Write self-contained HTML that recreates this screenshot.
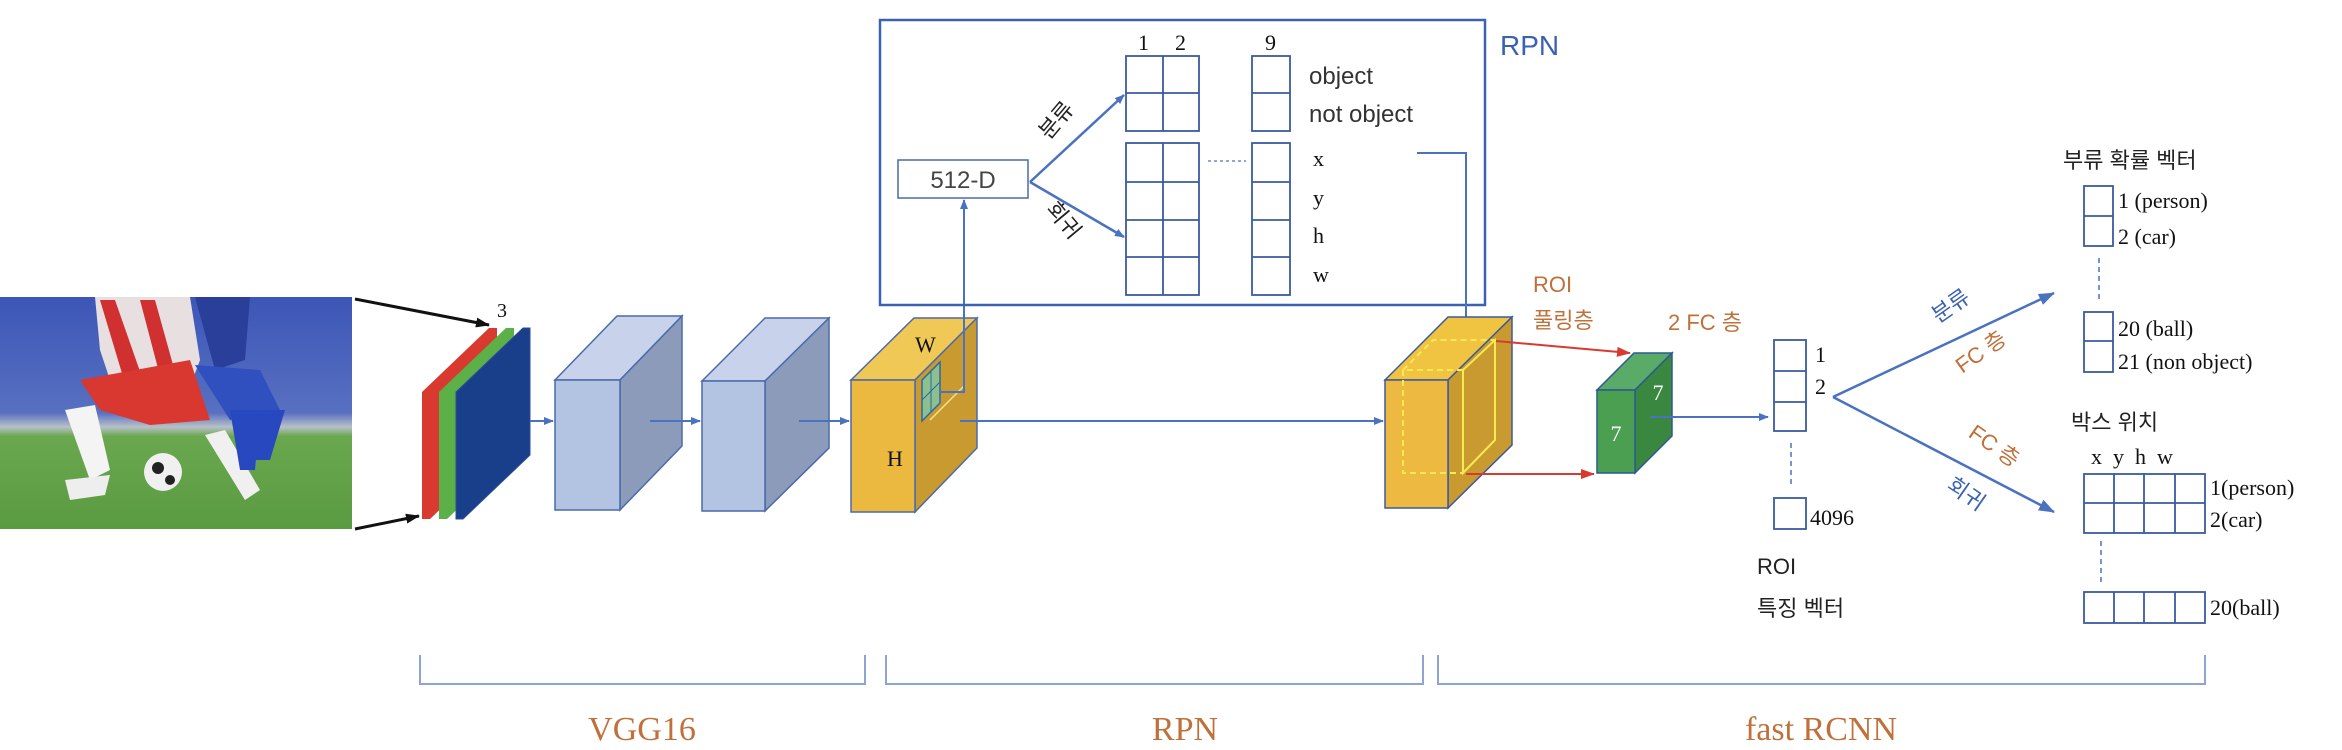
<!DOCTYPE html>
<html><head><meta charset="utf-8"><style>
html,body{margin:0;padding:0;background:#fff;}
svg{display:block;}
.s{font-family:"Liberation Serif","Noto Serif CJK SC","Noto Sans CJK KR",serif;}
.k{font-family:"Liberation Sans","Noto Sans CJK KR",sans-serif;}
</style></head><body>
<svg width="2342" height="750" viewBox="0 0 2342 750" xmlns="http://www.w3.org/2000/svg">
<defs>
<marker id="ab" markerWidth="10" markerHeight="8" refX="9" refY="4" orient="auto" markerUnits="userSpaceOnUse"><path d="M0,0 L10,4 L0,8 Z" fill="#4a72c0"/></marker>
<marker id="ar" markerWidth="14" markerHeight="10" refX="13" refY="5" orient="auto" markerUnits="userSpaceOnUse"><path d="M0,0 L14,5 L0,10 Z" fill="#d83a30"/></marker>
<marker id="ak" markerWidth="14" markerHeight="10" refX="13" refY="5" orient="auto" markerUnits="userSpaceOnUse"><path d="M0,0 L14,5 L0,10 Z" fill="#111"/></marker>
<marker id="ab2" markerWidth="16" markerHeight="12" refX="15" refY="6" orient="auto" markerUnits="userSpaceOnUse"><path d="M0,0 L16,6 L0,12 Z" fill="#4a72c0"/></marker>
<linearGradient id="ph" x1="0" y1="0" x2="0" y2="1">
<stop offset="0" stop-color="#3c56b8"/><stop offset="0.5" stop-color="#5870c0"/><stop offset="0.56" stop-color="#b8c0c8"/><stop offset="0.6" stop-color="#6aa850"/><stop offset="1" stop-color="#5a9a40"/></linearGradient>
</defs>

<!-- photo -->
<rect x="0" y="297" width="352" height="232" fill="url(#ph)"/>
<polygon points="95,297 190,297 200,360 185,400 120,410 100,350" fill="#e8e0e0"/>
<polygon points="100,300 115,300 150,400 130,400" fill="#d03030"/>
<polygon points="140,300 155,300 180,390 165,395" fill="#d03030"/>
<polygon points="195,297 250,297 245,360 215,370" fill="#2a3f9a"/>
<polygon points="80,380 190,360 210,420 150,425 100,410" fill="#d83830"/>
<polygon points="195,365 260,370 280,410 230,420" fill="#3050c0"/>
<polygon points="65,410 95,405 110,470 90,480" fill="#f4f4f4"/>
<polygon points="205,435 225,430 260,490 245,500" fill="#f0f0f0"/>
<polygon points="230,410 260,410 255,470 240,470" fill="#2848c0"/>
<polygon points="260,410 285,410 270,460 255,460" fill="#2848c0"/>
<circle cx="163" cy="472" r="19" fill="#f0f0f0"/><circle cx="158" cy="468" r="6" fill="#222"/><circle cx="170" cy="480" r="5" fill="#222"/>
<polygon points="65,480 110,475 105,495 70,500" fill="#eee"/>

<!-- black arrows -->
<line x1="355" y1="299" x2="489" y2="325" stroke="#111" stroke-width="3" marker-end="url(#ak)"/>
<line x1="355" y1="529" x2="419" y2="516" stroke="#111" stroke-width="3" marker-end="url(#ak)"/>
<text x="497" y="317" class="s" font-size="20" fill="#111">3</text>

<!-- RGB layers -->
<polygon points="422,519 422,392 489,328 497,328 497,455 430,519" fill="#d83a30"/>
<polygon points="439,519 439,392 506,328 514,328 514,455 447,519" fill="#5cb048"/>
<polygon points="456,519 456,392 523,328 530,328 530,455 463,519" fill="#1a3f8a" stroke="#2a4f9a"/>

<!-- VGG boxes -->
<g stroke="#4a6aaa" stroke-width="1.5">
<polygon points="555,380 617,316 682,316 620,380" fill="#c8d2ea"/>
<polygon points="620,380 682,316 682,446 620,510" fill="#8d9bba"/>
<rect x="555" y="380" width="65" height="130" fill="#b2c4e2"/>
<polygon points="702,381 765,318 829,318 765,381" fill="#c8d2ea"/>
<polygon points="765,381 829,318 829,448 765,511" fill="#8d9bba"/>
<rect x="702" y="381" width="63" height="130" fill="#b2c4e2"/>
<polygon points="851,380 914,318 977,318 915,380" fill="#f0c855"/>
<polygon points="915,380 977,318 977,448 915,512" fill="#c99a30"/>
<rect x="851" y="380" width="64" height="132" fill="#ecb940"/>
</g>
<line x1="930" y1="420" x2="965" y2="385" stroke="#f5e090" stroke-width="1.5"/>
<polygon points="922,380 940,362 940,403 922,421" fill="#8cc090" stroke="#2a6aa0" stroke-width="1.5"/>
<line x1="931" y1="372" x2="931" y2="412" stroke="#2a6aa0"/><line x1="922" y1="400" x2="940" y2="382" stroke="#2a6aa0"/>
<text x="915" y="352" class="s" font-size="22" fill="#111">W</text>
<text x="887" y="466" class="s" font-size="22" fill="#111">H</text>

<!-- blue arrows main -->
<g stroke="#4a72c0" stroke-width="2" fill="none">
<line x1="530" y1="421" x2="553" y2="421" marker-end="url(#ab)"/>
<line x1="650" y1="421" x2="700" y2="421" marker-end="url(#ab)"/>
<line x1="799" y1="421" x2="849" y2="421" marker-end="url(#ab)"/>
<line x1="960" y1="421" x2="1383" y2="421" marker-end="url(#ab)"/>
<polyline points="940,392 964,392 964,200" marker-end="url(#ab)"/>
</g>

<!-- RPN box -->
<rect x="880" y="20" width="605" height="285" fill="none" stroke="#3a62b0" stroke-width="2.5"/>
<text x="1500" y="55" class="k" font-size="28" fill="#3a62b0">RPN</text>
<rect x="898" y="160" width="130" height="38" fill="#fff" stroke="#4a6aaa" stroke-width="1.5"/>
<text x="963" y="188" class="k" font-size="24" fill="#444" text-anchor="middle">512-D</text>
<g stroke="#4a72c0" stroke-width="2.5" fill="none">
<line x1="1030" y1="182" x2="1124" y2="95" marker-end="url(#ab)"/>
<line x1="1030" y1="182" x2="1124" y2="237" marker-end="url(#ab)"/>
</g>
<text transform="translate(1062,125) rotate(-50)" class="k" font-size="22" fill="#222" text-anchor="middle">분류</text>
<text transform="translate(1058,225) rotate(50)" class="k" font-size="22" fill="#222" text-anchor="middle">회귀</text>
<g stroke="#3a5aa0" stroke-width="1.8" fill="none">
<rect x="1126" y="56" width="73" height="75"/><line x1="1163" y1="56" x2="1163" y2="131"/><line x1="1126" y1="93" x2="1199" y2="93"/>
<rect x="1126" y="143" width="73" height="152"/><line x1="1163" y1="143" x2="1163" y2="295"/>
<line x1="1126" y1="182" x2="1199" y2="182"/><line x1="1126" y1="220" x2="1199" y2="220"/><line x1="1126" y1="257" x2="1199" y2="257"/>
<rect x="1252" y="56" width="38" height="75"/><line x1="1252" y1="93" x2="1290" y2="93"/>
<rect x="1252" y="143" width="38" height="152"/><line x1="1252" y1="182" x2="1290" y2="182"/><line x1="1252" y1="220" x2="1290" y2="220"/><line x1="1252" y1="257" x2="1290" y2="257"/>
</g>
<line x1="1208" y1="161" x2="1246" y2="161" stroke="#6a8ac8" stroke-width="1.5" stroke-dasharray="3,3"/>
<g class="s" font-size="22" fill="#111">
<text x="1138" y="50">1</text><text x="1175" y="50">2</text><text x="1265" y="50">9</text>
<text x="1313" y="166">x</text><text x="1313" y="205">y</text><text x="1313" y="243">h</text><text x="1313" y="282">w</text>
</g>
<text x="1309" y="84" class="k" font-size="24" fill="#333">object</text>
<text x="1309" y="122" class="k" font-size="24" fill="#333">not object</text>
<polyline points="1417,153 1466,153 1466,335" fill="none" stroke="#4a72c0" stroke-width="2" marker-end="url(#ab)"/>

<!-- fast yellow box -->
<g stroke="#3a5aa0" stroke-width="1.5">
<polygon points="1385,380 1448,317 1512,317 1448,380" fill="#f0c440"/>
<polygon points="1448,380 1512,317 1512,445 1448,508" fill="#c99a30"/>
<rect x="1385" y="380" width="63" height="128" fill="#edb940"/>
</g>
<g stroke="#f5ea50" stroke-width="2" fill="none">
<polyline points="1403,370 1433,340 1495,340" stroke-dasharray="6,4"/>
<polyline points="1463,370 1403,370 1403,473 1463,473" stroke-dasharray="6,4"/>
<polygon points="1463,370 1495,340 1495,440 1463,473"/>
</g>
<line x1="1496" y1="341" x2="1630" y2="353" stroke="#d83a30" stroke-width="2" marker-end="url(#ar)"/>
<line x1="1466" y1="474" x2="1594" y2="474" stroke="#d83a30" stroke-width="2" marker-end="url(#ar)"/>
<!-- green -->
<g stroke="#2a5a90" stroke-width="1.5">
<polygon points="1597,390 1634,353 1672,353 1635,390" fill="#5aaa68"/>
<polygon points="1635,390 1672,353 1672,436 1635,473" fill="#3a8840"/>
<rect x="1597" y="390" width="38" height="83" fill="#4aa050"/>
</g>
<text x="1616" y="441" class="s" font-size="22" fill="#fff" text-anchor="middle">7</text>
<text x="1658" y="400" class="s" font-size="22" fill="#fff" text-anchor="middle">7</text>
<line x1="1650" y1="417" x2="1768" y2="417" stroke="#4a72c0" stroke-width="2" marker-end="url(#ab)"/>
<g class="k" font-size="22" fill="#c0703a">
<text x="1533" y="292">ROI</text><text x="1533" y="328">풀링층</text><text x="1668" y="330">2 FC 층</text>
</g>

<!-- FC vector -->
<g stroke="#3a5aa0" stroke-width="1.8" fill="none">
<rect x="1774" y="340" width="32" height="91"/><line x1="1774" y1="371" x2="1806" y2="371"/><line x1="1774" y1="402" x2="1806" y2="402"/>
<rect x="1774" y="498" width="32" height="31"/>
</g>
<line x1="1791" y1="443" x2="1791" y2="486" stroke="#4a72c0" stroke-width="1.5" stroke-dasharray="5,4"/>
<g class="s" font-size="22" fill="#111">
<text x="1815" y="362">1</text><text x="1815" y="394">2</text><text x="1810" y="525">4096</text>
</g>
<text x="1757" y="574" class="k" font-size="22" fill="#222">ROI</text>
<text x="1757" y="616" class="k" font-size="22" fill="#222">특징 벡터</text>

<!-- branches -->
<line x1="1833" y1="397" x2="2054" y2="293" stroke="#4a72c0" stroke-width="2.5" marker-end="url(#ab2)"/>
<line x1="1833" y1="397" x2="2054" y2="512" stroke="#4a72c0" stroke-width="2.5" marker-end="url(#ab2)"/>
<text transform="translate(1955,312) rotate(-35)" class="k" font-size="22" fill="#3a62b0" text-anchor="middle">분류</text>
<text transform="translate(1985,358) rotate(-35)" class="k" font-size="22" fill="#c0703a" text-anchor="middle">FC 층</text>
<text transform="translate(1990,452) rotate(35)" class="k" font-size="22" fill="#c0703a" text-anchor="middle">FC 층</text>
<text transform="translate(1962,500) rotate(35)" class="k" font-size="22" fill="#3a62b0" text-anchor="middle">회귀</text>

<!-- class vector -->
<text x="2063" y="168" class="k" font-size="22" fill="#222">부류 확률 벡터</text>
<g stroke="#3a5aa0" stroke-width="1.8" fill="none">
<rect x="2084" y="186" width="29" height="60"/><line x1="2084" y1="216" x2="2113" y2="216"/>
<rect x="2084" y="312" width="29" height="60"/><line x1="2084" y1="341" x2="2113" y2="341"/>
</g>
<line x1="2099" y1="258" x2="2099" y2="301" stroke="#4a72c0" stroke-width="1.5" stroke-dasharray="5,4"/>
<g class="s" font-size="22" fill="#111">
<text x="2118" y="208">1 (person)</text><text x="2118" y="244">2 (car)</text>
<text x="2118" y="336">20 (ball)</text><text x="2118" y="369">21 (non object)</text>
</g>
<!-- box position -->
<text x="2071" y="430" class="k" font-size="22" fill="#222">박스 위치</text>
<text x="2091" y="464" class="s" font-size="22" fill="#111" xml:space="preserve">x  y  h  w</text>
<g stroke="#3a5aa0" stroke-width="1.8" fill="none">
<rect x="2084" y="474" width="121" height="59"/><line x1="2084" y1="503" x2="2205" y2="503"/>
<line x1="2114" y1="474" x2="2114" y2="533"/><line x1="2144" y1="474" x2="2144" y2="533"/><line x1="2175" y1="474" x2="2175" y2="533"/>
<rect x="2084" y="592" width="121" height="31"/>
<line x1="2114" y1="592" x2="2114" y2="623"/><line x1="2144" y1="592" x2="2144" y2="623"/><line x1="2175" y1="592" x2="2175" y2="623"/>
</g>
<line x1="2101" y1="541" x2="2101" y2="586" stroke="#4a72c0" stroke-width="1.5" stroke-dasharray="5,4"/>
<g class="s" font-size="22" fill="#111">
<text x="2210" y="495">1(person)</text><text x="2210" y="527">2(car)</text><text x="2210" y="615">20(ball)</text>
</g>

<!-- brackets -->
<g stroke="#8ea4d4" stroke-width="2" fill="none">
<polyline points="420,655 420,684 865,684 865,655"/>
<polyline points="886,655 886,684 1423,684 1423,655"/>
<polyline points="1438,655 1438,684 2205,684 2205,655"/>
</g>
<g class="s" font-size="34" fill="#c0703a" text-anchor="middle">
<text x="642" y="740">VGG16</text><text x="1185" y="740">RPN</text><text x="1821" y="740">fast RCNN</text>
</g>
</svg>
</body></html>
